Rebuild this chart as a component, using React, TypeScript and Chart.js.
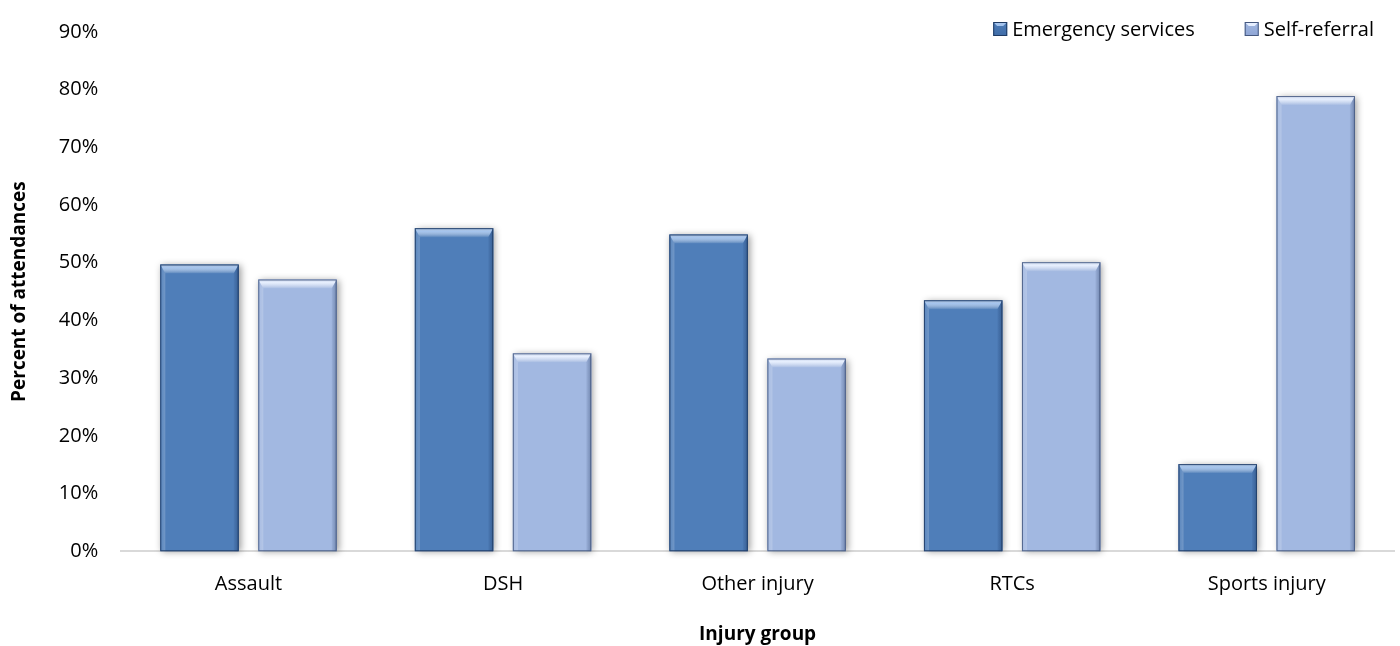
import React, { useEffect, useRef } from "react";
import { Chart, registerables } from "chart.js";
Chart.register(...registerables);

const categories = ["Assault", "DSH", "Other injury", "RTCs", "Sports injury"];
const seriesNames = ["Emergency services", "Self-referral"];
const emergencyServices = [49.7, 56.0, 54.9, 43.5, 15.1];
const selfReferral = [47.1, 34.3, 33.4, 50.1, 78.9];
const yMax = 90;
const yStep = 10;

const FONT = "'Open Sans', 'Noto Sans', sans-serif";
const colors = [
  { mid: "#4f7eb9", edge: "#3f6ca7", light: "rgba(170,200,240,0.95)", dark: "#1e3a63" },
  { mid: "#a2b8e1", edge: "#8ea5d5", light: "rgba(232,240,255,0.98)", dark: "#45587f" },
];

const bevelPlugin = {
  id: "bevel",
  beforeDatasetsDraw(chart: any) {
    const ctx = chart.ctx;
    chart.data.datasets.forEach((_: any, di: number) => {
      const meta = chart.getDatasetMeta(di);
      meta.data.forEach((el: any) => {
        const p = el.getProps(["x", "y", "base", "width"], true);
        const l = p.x - p.width / 2;
        ctx.save();
        ctx.shadowColor = "rgba(0,0,0,0.4)";
        ctx.shadowBlur = 7;
        ctx.shadowOffsetX = 2;
        ctx.shadowOffsetY = 1;
        ctx.fillStyle = colors[di].edge;
        ctx.fillRect(l, p.y, p.width, p.base - p.y);
        ctx.restore();
      });
    });
  },
  afterDatasetsDraw(chart: any) {
    const ctx = chart.ctx;
    chart.data.datasets.forEach((_: any, di: number) => {
      const meta = chart.getDatasetMeta(di);
      const c = colors[di];
      meta.data.forEach((el: any) => {
        const p = el.getProps(["x", "y", "base", "width"], true);
        const l = p.x - p.width / 2;
        const r = p.x + p.width / 2;
        const t = p.y;
        const b = p.base;
        const bv = Math.min(9, (b - t) / 2);
        const sv = 5;
        ctx.save();
        const g = ctx.createLinearGradient(0, t, 0, t + bv);
        g.addColorStop(0, "rgba(255,255,255,0.35)");
        g.addColorStop(0.35, c.light);
        g.addColorStop(1, "rgba(255,255,255,0.05)");
        ctx.fillStyle = g;
        ctx.beginPath();
        ctx.moveTo(l, t);
        ctx.lineTo(r, t);
        ctx.lineTo(r - sv, t + bv);
        ctx.lineTo(l + sv, t + bv);
        ctx.closePath();
        ctx.fill();
        const gl = ctx.createLinearGradient(l, 0, l + sv, 0);
        gl.addColorStop(0, "rgba(255,255,255,0.05)");
        gl.addColorStop(1, "rgba(255,255,255,0.2)");
        ctx.fillStyle = gl;
        ctx.beginPath();
        ctx.moveTo(l, t);
        ctx.lineTo(l + sv, t + bv);
        ctx.lineTo(l + sv, b);
        ctx.lineTo(l, b);
        ctx.closePath();
        ctx.fill();
        const gr = ctx.createLinearGradient(r - sv, 0, r, 0);
        gr.addColorStop(0, "rgba(0,20,60,0.05)");
        gr.addColorStop(1, "rgba(0,20,60,0.3)");
        ctx.fillStyle = gr;
        ctx.beginPath();
        ctx.moveTo(r, t);
        ctx.lineTo(r - sv, t + bv);
        ctx.lineTo(r - sv, b);
        ctx.lineTo(r, b);
        ctx.closePath();
        ctx.fill();
        ctx.strokeStyle = c.dark;
        ctx.globalAlpha = 0.85;
        ctx.lineWidth = 1;
        ctx.strokeRect(l + 0.5, t + 0.5, p.width - 1, b - t - 1);
        ctx.restore();
      });
    });
  },
};

const legendPlugin = {
  id: "customLegend",
  afterDraw(chart: any) {
    const ctx = chart.ctx;
    const area = chart.chartArea;
    ctx.save();
    ctx.font = `20px ${FONT}`;
    ctx.textBaseline = "middle";
    const y = 29;
    const gapItems = 50;
    const box = 14;
    const textGap = 5;
    const widths = seriesNames.map((n) => ctx.measureText(n).width);
    let total = 0;
    widths.forEach((w, i) => (total += box + textGap + w + (i < widths.length - 1 ? gapItems : 0)));
    let x = area.right - 20 - total;
    seriesNames.forEach((n, i) => {
      const c = colors[i];
      const top = y - box / 2;
      const g = ctx.createLinearGradient(0, top, 0, top + box);
      g.addColorStop(0, c.mid);
      g.addColorStop(1, c.edge);
      ctx.fillStyle = g;
      ctx.fillRect(x, top, box, box);
      ctx.fillStyle = c.light;
      ctx.beginPath();
      ctx.moveTo(x, top);
      ctx.lineTo(x + box, top);
      ctx.lineTo(x + box - 4, top + 4);
      ctx.lineTo(x + 4, top + 4);
      ctx.closePath();
      ctx.fill();
      ctx.strokeStyle = c.dark;
      ctx.lineWidth = 1;
      ctx.strokeRect(x + 0.5, top + 0.5, box - 1, box - 1);
      ctx.fillStyle = "#000";
      ctx.fillText(n, x + box + textGap, y + 1);
      x += box + textGap + widths[i] + gapItems;
    });
    ctx.restore();
  },
};

function gradientFor(i: number) {
  return (ctx: any) => {
    const chart = ctx.chart;
    const el = ctx.element;
    if (!chart.chartArea || !el) return colors[i].mid;
    const p = el.getProps ? el.getProps(["x", "y", "base", "width"], true) : null;
    if (!p || !isFinite(p.x) || !isFinite(p.width)) return colors[i].mid;
    const g = chart.ctx.createLinearGradient(p.x - p.width / 2, 0, p.x + p.width / 2, 0);
    g.addColorStop(0, colors[i].edge);
    g.addColorStop(0.5, colors[i].mid);
    g.addColorStop(1, colors[i].edge);
    return g;
  };
}

export default function App() {
  const ref = useRef<HTMLCanvasElement>(null);
  useEffect(() => {
    if (!ref.current) return;
    const chart = new Chart(ref.current, {
      type: "bar",
      data: {
        labels: categories,
        datasets: [
          {
            label: seriesNames[0],
            data: emergencyServices,
            backgroundColor: gradientFor(0),
            categoryPercentage: 0.77,
            barPercentage: 0.8,
          },
          {
            label: seriesNames[1],
            data: selfReferral,
            backgroundColor: gradientFor(1),
            categoryPercentage: 0.77,
            barPercentage: 0.8,
          },
        ],
      },
      options: {
        animation: false,
        responsive: true,
        maintainAspectRatio: false,
        layout: { padding: { top: 32, right: 6, left: 8, bottom: 0 } },
        plugins: {
          legend: { display: false },
          tooltip: { enabled: false },
        },
        scales: {
          x: {
            grid: { display: false },
            border: { display: true, color: "#d9d9d9", width: 2 },
            ticks: { color: "#000", font: { family: FONT, size: 20 }, padding: 13 },
            title: {
              display: true,
              text: "Injury group",
              color: "#000",
              font: { family: FONT, size: 19, weight: "bold" },
              padding: { top: 14, bottom: 0 },
            },
          },
          y: {
            min: 0,
            max: yMax,
            grid: { display: false },
            border: { display: false },
            ticks: {
              stepSize: yStep,
              color: "#000",
              font: { family: FONT, size: 20 },
              padding: 15,
              callback: (v: any) => v + "%",
            },
            title: {
              display: true,
              text: "Percent of attendances",
              color: "#000",
              font: { family: FONT, size: 19, weight: "bold" },
              padding: { top: 0, bottom: 13 },
            },
          },
        },
      },
      plugins: [bevelPlugin, legendPlugin],
    });
    return () => chart.destroy();
  }, []);
  return (
    <div style={{ position: "absolute", left: 0, top: 0, width: 1400, height: 646, background: "#fff" }}>
      <canvas ref={ref} />
    </div>
  );
}
